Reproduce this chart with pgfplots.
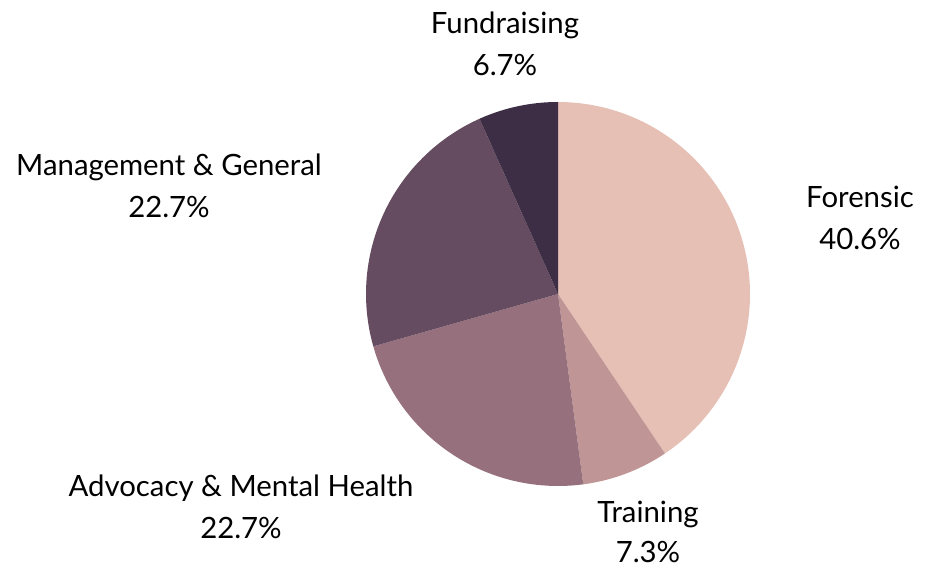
\documentclass[border=0pt]{standalone}
\usepackage{pgfplots}
\pgfplotsset{compat=1.18}
\usepackage{fontspec}
\setmainfont{Lato}
\definecolor{cForensic}{HTML}{E6BFB5}
\definecolor{cTraining}{HTML}{BF9595}
\definecolor{cAdvocacy}{HTML}{96717D}
\definecolor{cManage}{HTML}{664C61}
\definecolor{cFund}{HTML}{3D2E45}
% shares in percent
\def\pForensic{40.6}
\def\pTraining{7.3}
\def\pAdvocacy{22.7}
\def\pManage{22.7}
\def\pFund{6.7}
\pgfmathsetmacro{\aA}{90}
\pgfmathsetmacro{\aB}{\aA-3.6*\pForensic}
\pgfmathsetmacro{\aC}{\aB-3.6*\pTraining}
\pgfmathsetmacro{\aD}{\aC-3.6*\pAdvocacy}
\pgfmathsetmacro{\aE}{\aD-3.6*\pManage}
\pgfmathsetmacro{\aF}{\aE-3.6*\pFund}
\def\cx{558}
\def\cy{273}
\def\r{192}
\tikzset{lab/.style={font=\fontsize{22}{26}\selectfont, anchor=base, text=black, inner sep=0pt}}
\begin{document}
\begin{tikzpicture}
\begin{axis}[
  width=700.5pt, height=425.25pt, scale only axis,
  xmin=0, xmax=934, ymin=0, ymax=567,
  hide axis, clip=false,
]
\path (rel axis cs:0,0) rectangle (rel axis cs:1,1);
\addplot[fill=cForensic, draw=none, domain=\aB:\aA, samples=90, variable=\t]
  ({\cx+\r*cos(\t)},{\cy+\r*sin(\t)}) -- (axis cs:\cx,\cy) -- cycle;
\addplot[fill=cTraining, draw=none, domain=\aC:\aB, samples=30, variable=\t]
  ({\cx+\r*cos(\t)},{\cy+\r*sin(\t)}) -- (axis cs:\cx,\cy) -- cycle;
\addplot[fill=cAdvocacy, draw=none, domain=\aD:\aC, samples=60, variable=\t]
  ({\cx+\r*cos(\t)},{\cy+\r*sin(\t)}) -- (axis cs:\cx,\cy) -- cycle;
\addplot[fill=cManage, draw=none, domain=\aE:\aD, samples=60, variable=\t]
  ({\cx+\r*cos(\t)},{\cy+\r*sin(\t)}) -- (axis cs:\cx,\cy) -- cycle;
\addplot[fill=cFund, draw=none, domain=\aF:\aE, samples=30, variable=\t]
  ({\cx+\r*cos(\t)},{\cy+\r*sin(\t)}) -- (axis cs:\cx,\cy) -- cycle;

\node[lab] at (axis cs:505,533) {Fundraising};
\node[lab] at (axis cs:505,491) {6.7\%};
\node[lab] at (axis cs:860,359) {Forensic};
\node[lab] at (axis cs:860,317) {40.6\%};
\node[lab] at (axis cs:648,45) {Training};
\node[lab] at (axis cs:648,4.5) {7.3\%};
\node[lab] at (axis cs:241,70) {Advocacy \& Mental Health};
\node[lab] at (axis cs:241,28) {22.7\%};
\node[lab] at (axis cs:169,391) {Management \& General};
\node[lab] at (axis cs:169,349) {22.7\%};
\end{axis}
\end{tikzpicture}
\end{document}
